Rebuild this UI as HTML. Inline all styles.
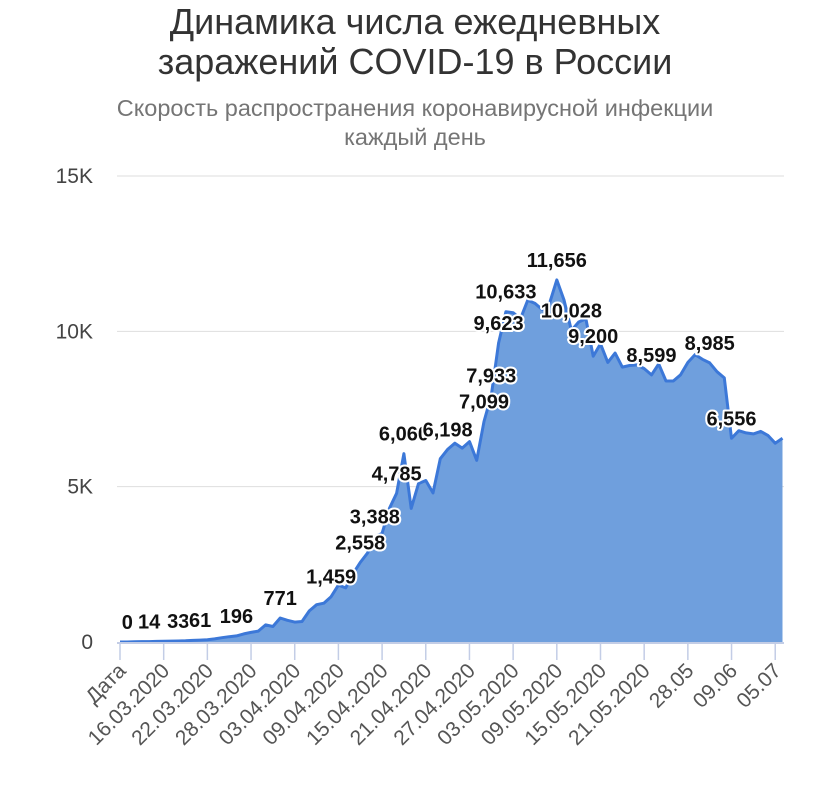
<!DOCTYPE html>
<html><head><meta charset="utf-8">
<style>
body{margin:0;background:#fff;}
svg text{font-family:"Liberation Sans",Arial,sans-serif;}
.lbl{font-weight:bold;font-size:20px;fill:#111;stroke:#fff;stroke-width:4px;paint-order:stroke;stroke-linejoin:round;}
</style></head>
<body>
<svg id="chart" width="829" height="801" xmlns="http://www.w3.org/2000/svg">
<text x="415" y="34" text-anchor="middle" font-size="36" fill="#333">Динамика числа ежедневных</text>
<text x="415" y="74" text-anchor="middle" font-size="36" fill="#333">заражений COVID-19 в России</text>
<text x="415" y="116" text-anchor="middle" font-size="23.5" fill="#757575">Скорость распространения коронавирусной инфекции</text>
<text x="415" y="145" text-anchor="middle" font-size="23.5" fill="#757575">каждый день</text>
<g id="grid"></g><g id="area"></g><g id="xaxis"></g><g id="labels"></g>
</svg>
<script>
const yTicks=[0,5000,10000,15000];
const yTickLabels=["0","5K","10K","15K"];
const xTickLabels=["Дата","16.03.2020","22.03.2020","28.03.2020","03.04.2020","09.04.2020","15.04.2020","21.04.2020","27.04.2020","03.05.2020","09.05.2020","15.05.2020","21.05.2020","28.05","09.06","05.07"];
const values=[0,0,10,14,14,20,25,30,33,40,50,61,70,100,140,170,196,260,310,350,550,500,771,700,640,660,1000,1200,1250,1459,1830,1740,2200,2558,2860,3388,3500,4300,4785,6060,4300,5100,5200,4800,5900,6198,6400,6240,6450,5850,7099,7933,9623,10633,10600,10400,11000,10900,10700,10900,11656,11000,10028,10300,10400,9200,9600,9000,9300,8850,8900,8920,8800,8599,8950,8400,8400,8600,9000,9250,9100,8985,8700,8500,6556,6800,6730,6700,6780,6650,6400,6556];
const labelIdx=[1,4,8,11,16,22,29,33,35,38,39,45,50,51,52,53,60,62,65,73,81,84];
const NS="http://www.w3.org/2000/svg";
const x0=120,x1=782.5,y0=642,pxPer=466/15000;
function xs(i){return x0+i*(x1-x0)/(values.length-1);}
function ys(v){return y0-v*pxPer;}
function mk(t,a,p){const e=document.createElementNS(NS,t);for(const k in a)e.setAttribute(k,a[k]);p.appendChild(e);return e;}
const grid=document.getElementById('grid');
yTicks.forEach((v,k)=>{
  if(v>0){const l=mk('line',{x1:117,x2:784,y1:ys(v),y2:ys(v),stroke:'#dedede','stroke-width':1},grid);
  
  }
  const t=mk('text',{x:93,y:ys(v)+7,'text-anchor':'end','font-size':21,fill:'#444'},grid);
  t.textContent=yTickLabels[k];
  
  
});
const area=document.getElementById('area');
let d='M'+xs(0)+','+y0;values.forEach((v,i)=>{d+=' L'+xs(i).toFixed(1)+','+ys(v).toFixed(1);});d+=' L'+xs(values.length-1)+','+y0+' Z';
const ar=mk('path',{d:d,fill:'#6f9fdd'},area);


let ld='';values.forEach((v,i)=>{ld+=(i?' L':'M')+xs(i).toFixed(1)+','+ys(v).toFixed(1);});
const ln=mk('path',{d:ld,fill:'none',stroke:'#3c78d8','stroke-width':3,'stroke-linejoin':'round'},area);


const xa=document.getElementById('xaxis');
const base=mk('line',{x1:117,x2:784,y1:y0+1,y2:y0+1,stroke:'#c3cde6','stroke-width':2},xa);


xTickLabels.forEach((s,k)=>{
  const x=xs(k*6);
  const tk=mk('line',{x1:x,x2:x,y1:y0+2,y2:y0+18,stroke:'#c3cde6','stroke-width':1.5},xa);
  
  
  const t=mk('text',{x:x+7,y:y0+30,'text-anchor':'end','font-size':21,fill:'#555',transform:'rotate(-45 '+(x+7)+' '+(y0+30)+')'},xa);
  t.textContent=s;
  
  
});
const lb=document.getElementById('labels');
labelIdx.forEach(i=>{
  const t=mk('text',{x:xs(i),y:ys(values[i])-13,'text-anchor':'middle',class:'lbl'},lb);
  t.textContent=values[i].toLocaleString('en-US');
  
  
});
</script>
</body></html>
